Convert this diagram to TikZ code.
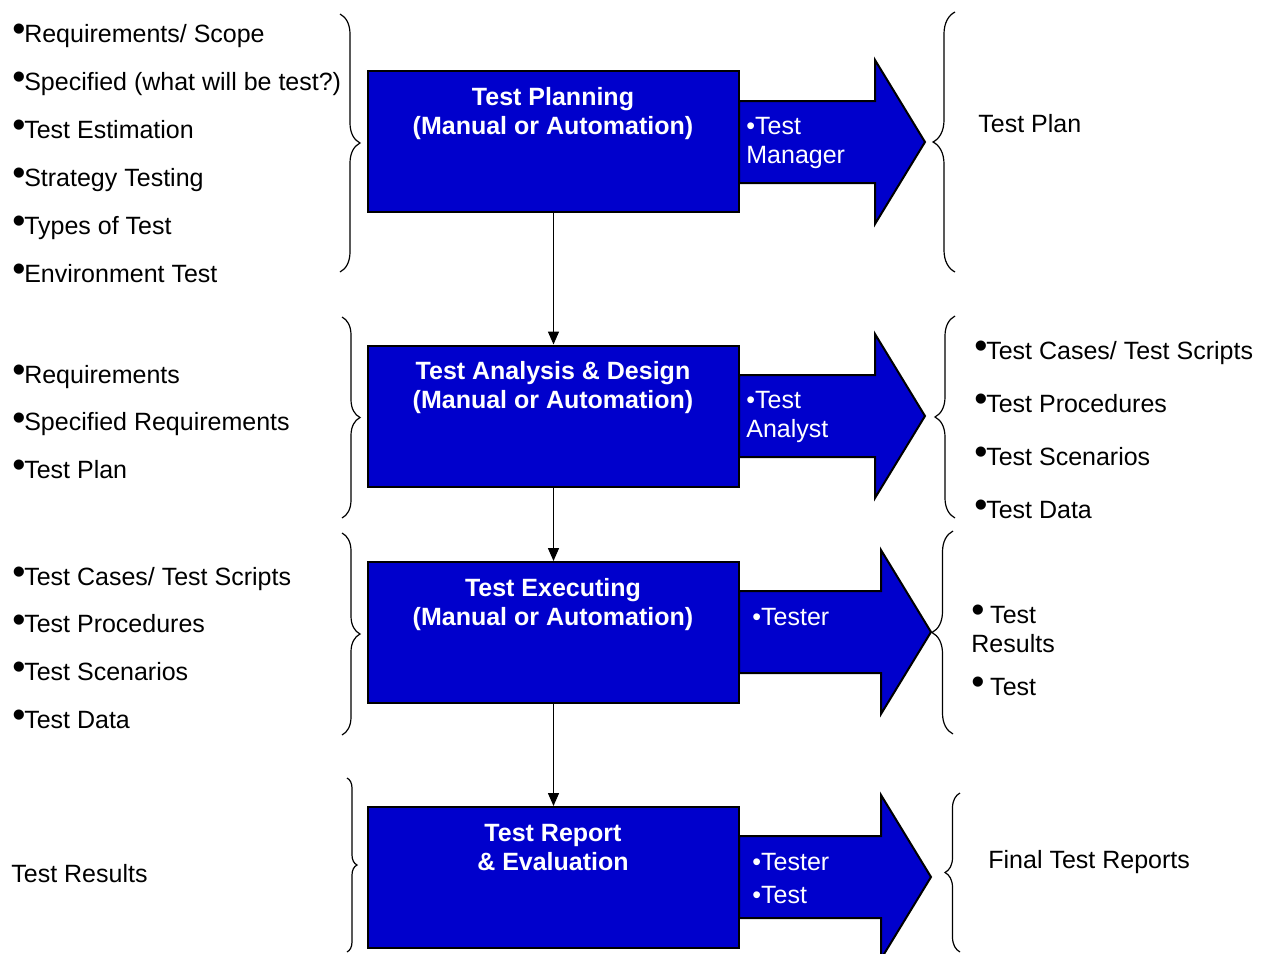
\documentclass[tikz,border=0pt]{standalone}
\usepackage{fontspec}
\setmainfont{Liberation Sans}
\usepackage{tikz}
\usetikzlibrary{arrows.meta,decorations.pathreplacing}
\definecolor{stageblue}{RGB}{0,0,204}
\newcommand{\bul}{\raisebox{0.02em}{\scalebox{1.5}{\textbullet}}\kern-0.05em}

\begin{document}
\begin{tikzpicture}[x=0.5pt, y=-0.5pt,
        every node/.style={font=\fontsize{12.5pt}{14.5pt}\selectfont, inner sep=0pt},
        stage/.style={draw, line width=1pt, fill=stageblue,
            minimum width=185.5pt, minimum height=70.5pt},
        title/.style={text=white, font=\fontsize{12.5pt}{14.5pt}\selectfont\bfseries,
            align=center, anchor=base},
        role/.style={text=white, align=left, anchor=base west},
        item/.style={anchor=base west, align=left},
        flow/.style={-{Triangle[length=6.5pt, width=5.5pt]}, line width=0.7pt},
        curly/.style={decorate, decoration={brace, amplitude=#1}, line width=0.6pt}]

    \useasboundingbox[fill=white] (0,0) rectangle (1276,954);

    % block arrows behind the stages
    \foreach \c/\h in {142/875, 416/875, 632/881, 877/881}
        \draw [line width=1pt, fill=stageblue]
            (739,{\c-41}) -- (\h,{\c-41}) -- (\h,{\c-82}) -- ({\h+50},\c)
            -- (\h,{\c+82}) -- (\h,{\c+41}) -- (739,{\c+41}) -- cycle;

    % stages (base = last line)
    \node [stage] (s1) at (553.5, 141.5) {};
    \node [stage] (s2) at (553.5, 416) {};
    \node [stage] (s3) at (553.5, 632.5) {};
    \node [stage] (s4) at (553.5, 877.5) {};

    \node [title] (t1) at (553, 134) {Test Planning\\(Manual or Automation)};
    \node [title] (t2) at (553, 408) {Test Analysis \& Design\\(Manual or Automation)};
    \node [title] (t3) at (553, 625) {Test Executing\\(Manual or Automation)};
    \node [title] (t4) at (553, 870) {Test Report\\\& Evaluation};

    \node [role] (r1) at (746, 163) {•Test\\Manager};
    \node [role] (r2) at (746, 437) {•Test\\Analyst};
    \node [role] (r3) at (752, 625) {•Tester};
    \node [role] (r4) at (752, 903) {•Tester\\[2pt]•Test};

    \draw [flow] (s1) -- (s2);
    \draw [flow] (s2) -- (s3);
    \draw [flow] (s3) -- (s4);

    % inputs
    \foreach \t [count=\i from 0] in {{Requirements/ Scope}, {Specified (what will be test?)},
            {Test Estimation}, {Strategy Testing}, {Types of Test}, {Environment Test}}
        \node [item] (in1_\i) at (12, {42+48*\i}) {\bul\t};
    \foreach \t [count=\i from 0] in {Requirements, {Specified Requirements}, {Test Plan}}
        \node [item] (in2_\i) at (12, {383+47.5*\i}) {\bul\t};
    \foreach \t [count=\i from 0] in {{Test Cases/ Test Scripts}, {Test Procedures},
            {Test Scenarios}, {Test Data}}
        \node [item] (in3_\i) at (12, {585+47.7*\i}) {\bul\t};
    \node [item] (in4) at (11, 882) {Test Results};

    % outputs
    \node [item] (out1) at (978, 132) {Test Plan};
    \foreach \t [count=\i from 0] in {{Test Cases/ Test Scripts}, {Test Procedures},
            {Test Scenarios}, {Test Data}}
        \node [item] (out2_\i) at (974, {359+53*\i}) {\bul\t};
    \node [item] (out3) at (971, 695) {\bul\ Test\\Results\\[7pt]\bul\ Test};
    \node [item] (out4) at (988, 868) {Final Test Reports};

    % braces
    \draw [curly=10pt] (340,14) -- (340,272);
    \draw [curly=9pt] (342,317) -- (342,518);
    \draw [curly=9pt] (342,533) -- (342,735);
    \draw [curly=5pt] (347,778) -- (347,952);
    \draw [curly=11pt] (955,272) -- (955,12);
    \draw [curly=10pt] (955,518) -- (955,316);
    \draw [curly=10.5pt] (953,734) -- (953,531);
    \draw [curly=7.5pt] (960,952) -- (960,793);
\end{tikzpicture}
\end{document}
